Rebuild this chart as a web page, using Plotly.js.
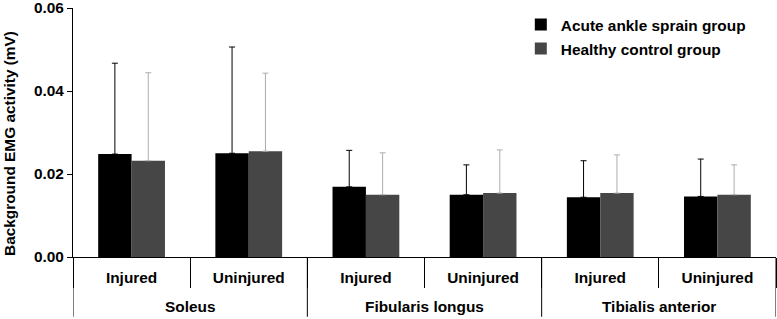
<!DOCTYPE html>
<html>
<head>
<meta charset="utf-8">
<script src="https://cdn.plot.ly/plotly-3.0.1.min.js"></script>
<style>html,body{margin:0;padding:0;background:#fff;}#chart{width:777px;height:319px;}</style>
</head>
<body>
<div id="chart"></div>
<script>
var muscles = ['Soleus','Soleus','Fibularis longus','Fibularis longus','Tibialis anterior','Tibialis anterior'];
var sides = ['Injured','Uninjured','Injured','Uninjured','Injured','Uninjured'];
var acuteMean = [0.0248, 0.0250, 0.0169, 0.0150, 0.0144, 0.0146];
var acuteSD   = [0.0219, 0.0256, 0.0088, 0.0072, 0.0088, 0.0090];
var healthyMean = [0.0232, 0.0255, 0.0150, 0.0154, 0.0154, 0.0150];
var healthySD   = [0.0212, 0.0188, 0.0101, 0.0104, 0.0092, 0.0072];
var yTicks = [0, 0.02, 0.04, 0.06];

var cats = muscles.map(function(m, i){ return m + ' · ' + sides[i]; });
var zeros = acuteMean.map(function(){ return 0; });

var font = {family: '"Liberation Sans", Arial, sans-serif', size: 15.4, color: '#000', weight: 'bold'};

var traces = [
  {type:'bar', name:'Acute ankle sprain group', x:cats, y:acuteMean,
   marker:{color:'#000000'}, legendgroup:'a',
   error_y:{type:'data', symmetric:false, array:acuteSD, arrayminus:zeros, color:'#000000', thickness:1, width:3}},
  {type:'bar', name:'Healthy control group', x:cats, y:healthyMean,
   marker:{color:'#464646'}, legendgroup:'b',
   error_y:{type:'data', symmetric:false, array:healthySD, arrayminus:zeros, color:'#adadad', thickness:1, width:3}}
];

// group spans derived from the muscles array
var groups = [];
muscles.forEach(function(m, i){
  if (!groups.length || groups[groups.length-1].name !== m) groups.push({name:m, start:i, end:i});
  else groups[groups.length-1].end = i;
});
var annotations = groups.map(function(g){
  return {text:g.name, xref:'x', yref:'paper', x:(g.start + g.end)/2, y:-0.2,
          xanchor:'center', yanchor:'middle', showarrow:false, font:font};
});
annotations.push({text:'Background EMG activity (mV)', xref:'paper', yref:'paper', x:-0.0896, y:0.454,
                  xanchor:'center', yanchor:'middle', textangle:-90, showarrow:false, font:font});
var shapes = [];
groups.forEach(function(g, k){
  shapes.push({type:'line', xref:'x', yref:'paper', x0:g.start-0.5, x1:g.start-0.5, y0:0, y1:-0.24,
               line:{color:'#000', width:1}});
  if (k === groups.length-1)
    shapes.push({type:'line', xref:'x', yref:'paper', x0:g.end+0.5, x1:g.end+0.5, y0:0, y1:-0.24,
                 line:{color:'#000', width:1}});
});

var layout = {
  width:777, height:319,
  margin:{l:73, r:1, t:8, b:62},
  paper_bgcolor:'#fff', plot_bgcolor:'#fff',
  font: font,
  bargap:0.43, bargroupgap:0,
  showlegend:true,
  legend:{x:0.637, y:1.0, xanchor:'left', yanchor:'top', bgcolor:'rgba(0,0,0,0)',
          font:font, tracegroupgap:1, traceorder:'grouped', itemwidth:30},
  xaxis:{type:'category', tickvals:cats, ticktext:sides, range:[-0.5, cats.length-0.5],
         showline:true, linecolor:'#000', linewidth:1,
         ticks:'outside', ticklen:30, tickcolor:'#000', tickwidth:1, tickson:'boundaries',
         ticklabelstandoff:7,
         showgrid:false, zeroline:false, tickfont:font},
  yaxis:{range:[0,0.0600001], tickvals:yTicks, tickformat:'.2f', showline:true, linecolor:'#000', linewidth:1,
         ticks:'outside', ticklen:5, tickcolor:'#000', showgrid:false, zeroline:false, tickfont:font,
         ticklabeloverflow:'allow'},
  annotations:annotations,
  shapes:shapes
};

Plotly.newPlot('chart', traces, layout, {displayModeBar:false, staticPlot:true});
</script>
</body>
</html>
